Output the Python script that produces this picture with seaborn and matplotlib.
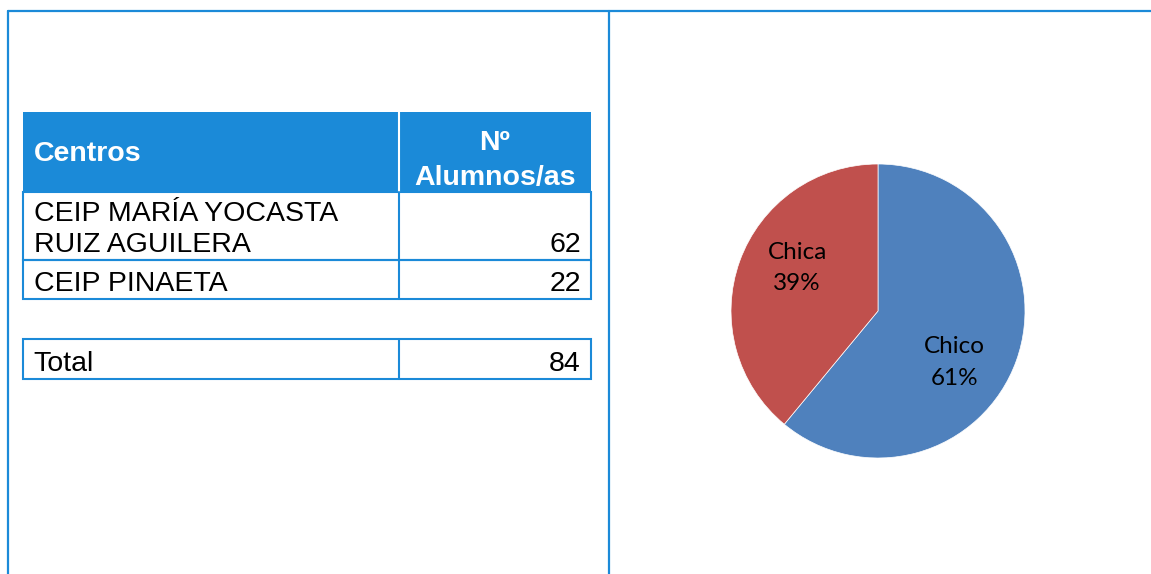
import matplotlib
matplotlib.use("Agg")
import matplotlib.pyplot as plt
import seaborn as sns

# table data
centros = ["CEIP MARÍA YOCASTA\nRUIZ AGUILERA", "CEIP PINAETA"]
alumnos = [62, 22]
total_label = "Total"
total_value = 84
header = ["Centros", "Nº\nAlumnos/as"]

# pie data
sexo = ["Chico", "Chica"]
porcentaje = [61, 39]
pie_colors = ["#4F81BD", "#C0504D"]

sns.set_theme(style="white")
plt.rcParams["font.family"] = ["Liberation Sans", "DejaVu Sans"]

border = "#1B8AD8"
fs = 20.5

fig = plt.figure(figsize=(11.51, 5.74), dpi=100)
bg = fig.add_axes([0, 0, 1, 1])
bg.set_xlim(0, 1151)
bg.set_ylim(574, 0)
bg.axis("off")

# outer frame
bg.plot([8, 1151], [11, 11], color=border, lw=1.6)
bg.plot([8, 8], [11, 574], color=border, lw=1.6)
bg.plot([609, 609], [11, 574], color=border, lw=1.6)

x0, xm, x1 = 23, 399, 591
# header
bg.add_patch(plt.Rectangle((x0, 112), x1 - x0, 80, color=border, lw=0))
bg.plot([xm, xm], [112, 192], color="white", lw=1.5)
bg.text(34, 154, header[0], color="white", fontsize=fs, fontweight="bold", va="center", ha="left")
bg.text(495, 160, header[1], color="white", fontsize=fs, fontweight="bold", va="center", ha="center",
        linespacing=1.45)

# body rows
row_edges = [(192, 260), (260, 299)]
for (top, bot), name, val in zip(row_edges, centros, alumnos):
    bg.add_patch(plt.Rectangle((x0, top), x1 - x0, bot - top, fill=False, ec=border, lw=1.5))
    bg.plot([xm, xm], [top, bot], color=border, lw=1.5)
    bg.text(34, bot - 8, name, fontsize=fs, va="baseline", ha="left", color="black", linespacing=1.27)
    bg.text(581, bot - 8, str(val), fontsize=fs, va="baseline", ha="right", color="black")

# total row
bg.add_patch(plt.Rectangle((x0, 339), x1 - x0, 40, fill=False, ec=border, lw=1.5))
bg.plot([xm, xm], [339, 379], color=border, lw=1.5)
bg.text(33, 371, total_label, fontsize=fs, va="baseline", ha="left", color="black")
bg.text(581, 371, str(total_value), fontsize=fs, va="baseline", ha="right", color="black")

# pie chart
ax = fig.add_axes([731 / 1151, (574 - 458) / 574, 294 / 1151, 294 / 574])
wedges, texts = ax.pie(porcentaje, colors=pie_colors, startangle=90, counterclock=False,
                       wedgeprops=dict(linewidth=0.5, edgecolor="white"))
ax.set_xlim(-1, 1)
ax.set_ylim(-1, 1)
ax.set_aspect("equal")
label_pos = [(0.52, -0.35), (-0.55, 0.29)]
for name, pct, (lx, ly) in zip(sexo, porcentaje, label_pos):
    ax.text(lx, ly, f"{name}\n{pct}%", ha="center", va="center", fontsize=17.5,
            family=["Lato", "DejaVu Sans"], color="black", linespacing=1.6)

fig.savefig("out.png", dpi=100)
